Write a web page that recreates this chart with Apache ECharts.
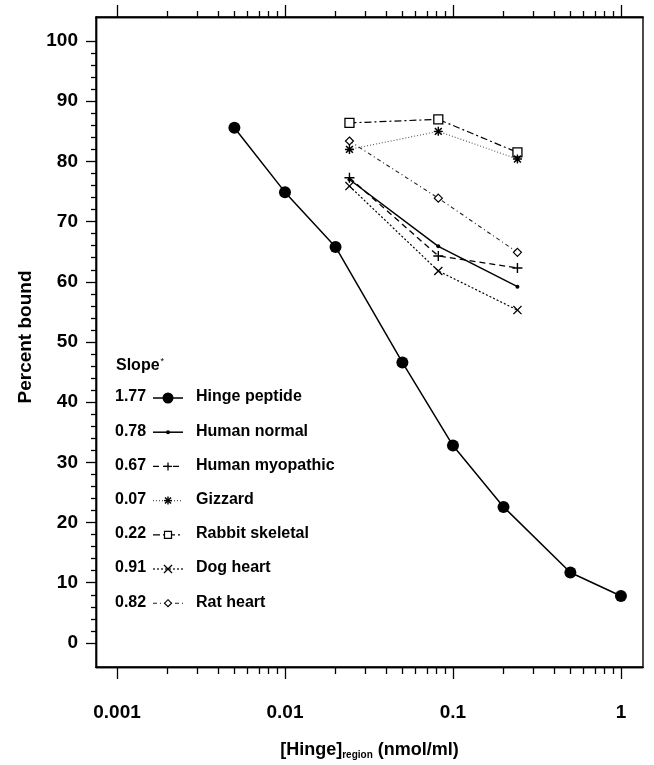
<!DOCTYPE html>
<html><head><meta charset="utf-8">
<script src="https://cdn.jsdelivr.net/npm/echarts@6/dist/echarts.min.js"></script>
<style>html,body{margin:0;padding:0;background:#fff}#c{width:654px;height:765px}</style>
</head><body><div id="c"></div>
<script>
// ---- data ----
const seriesNames = ['Hinge peptide','Human normal','Human myopathic','Gizzard','Rabbit skeletal','Dog heart','Rat heart'];
const slopes = ['1.77','0.78','0.67','0.07','0.22','0.91','0.82'];
const hingeX = [0.005, 0.01, 0.02, 0.05, 0.1, 0.2, 0.5, 1];
const hingeY = [85.6, 74.9, 65.8, 46.6, 32.8, 22.6, 11.7, 7.8];
const tissueX = [0.0242, 0.0818, 0.242];
const humanNormalY = [77.0, 65.9, 59.2];
const humanMyopathicY = [77.3, 64.3, 62.3];
const gizzardY = [82.0, 85.0, 80.4];
const rabbitSkeletalY = [86.4, 87.0, 81.5];
const dogHeartY = [75.9, 61.8, 55.3];
const ratHeartY = [83.4, 73.9, 64.9];
const xMajorTicks = [0.001, 0.01, 0.1, 1];
const xMinorTicks = [0.002,0.003,0.004,0.005,0.006,0.007,0.008,0.009,
                     0.02,0.03,0.04,0.05,0.06,0.07,0.08,0.09,
                     0.2,0.3,0.4,0.5,0.6,0.7,0.8,0.9];
const yMajorTicks = [0,10,20,30,40,50,60,70,80,90,100];
const yMinorTicks = [2,4,6,8,12,14,16,18,22,24,26,28,32,34,36,38,42,44,46,48,52,54,56,58,62,64,66,68,72,74,76,78,82,84,86,88,92,94,96,98];
const xLabel = '[Hinge]{sub|region} (nmol/ml)';
const yLabel = 'Percent bound';

// ---- styles ----
const FONT = "'Liberation Sans', Arial, Helvetica, sans-serif";
const FW = 'bold';
const X_MIN = 0.00075, X_MAX = 1.353, Y_MIN = -4, Y_MAX = 104;
const PLUS = 'path://M4.3,0H5.7V4.3H10V5.7H5.7V10H4.3V5.7H0V4.3H4.3Z';
const CROSS = 'path://M0,1L1,0L5,4L9,0L10,1L6,5L10,9L9,10L5,6L1,10L0,9L4,5Z';
const STAR = 'path://M4.2,0H5.8V10H4.2Z M0,4.2H10V5.8H0Z M0.6,1.8L1.8,0.6L9.4,8.2L8.2,9.4Z M8.2,0.6L9.4,1.8L1.8,9.4L0.6,8.2Z';

const pairs = (xs, ys) => xs.map((x, i) => [x, ys[i]]);
const seriesData = [
  pairs(hingeX, hingeY), pairs(tissueX, humanNormalY), pairs(tissueX, humanMyopathicY),
  pairs(tissueX, gizzardY), pairs(tissueX, rabbitSkeletalY), pairs(tissueX, dogHeartY), pairs(tissueX, ratHeartY)
];
const styles = [
  {symbol:'circle', size:12, fill:'#000', border:0, dash:'solid', width:1.5, color:'#000'},
  {symbol:'circle', size:4, fill:'#000', border:0, dash:'solid', width:1.5, color:'#000'},
  {symbol:PLUS, size:10, fill:'#000', border:0, dash:[6,4], width:1.3, color:'#000'},
  {symbol:STAR, size:9, fill:'#000', border:0, dash:[1,2], width:1.1, color:'#555'},
  {symbol:'rect', size:9, fill:'#fff', border:1.3, dash:[7,3,2,3], width:1.2, color:'#000'},
  {symbol:CROSS, size:9, fill:'#000', border:0, dash:[2,2], width:1.2, color:'#000'},
  {symbol:'diamond', size:8, fill:'#fff', border:1.2, dash:[4,3,1,3], width:1.1, color:'#222'}
];

const series = seriesNames.map((name, i) => ({
  name, type:'line', xAxisIndex:0, yAxisIndex:0, data: seriesData[i],
  symbol: styles[i].symbol, symbolSize: styles[i].size, showAllSymbol:true,
  lineStyle:{color:styles[i].color, width:styles[i].width, type:styles[i].dash},
  itemStyle:{color:styles[i].fill, borderColor:'#000', borderWidth:styles[i].border, opacity:1},
  emphasis:{disabled:true}, animation:false, z: 10 - i
}));

const tickLine = {color:'#000', width:1.3};
const baseX = (pos, ticks, len, labels) => ({
  type:'log', min:X_MIN, max:X_MAX, position:pos,
  axisLine:{show:true, onZero:false, lineStyle:{color:'#000', width:1.4}},
  axisTick:{show:true, inside:false, customValues:ticks, length:len, lineStyle:tickLine},
  minorTick:{show:false}, splitLine:{show:false},
  axisLabel: labels ? {show:true, customValues:ticks, margin:36, fontSize:19, fontWeight:FW, fontFamily:FONT, color:'#000',
     formatter: v => String(+Number(v).toPrecision(3))} : {show:false}
});
const baseY = (ticks, len, labels) => ({
  type:'value', min:Y_MIN, max:Y_MAX, position:'left',
  axisLine:{show:true, onZero:false, lineStyle:{color:'#000', width:1.4}},
  axisTick:{show:true, inside:false, customValues:ticks, length:len, lineStyle:tickLine},
  minorTick:{show:false}, splitLine:{show:false},
  axisLabel: labels ? {show:true, customValues:ticks, margin:18, fontSize:19, fontWeight:FW, fontFamily:FONT, color:'#000'} : {show:false}
});

const xAxes = [
  Object.assign(baseX('bottom', xMajorTicks, 12, true), {
    name: xLabel, nameLocation:'middle', nameGap:73,
    nameTextStyle:{fontSize:18, fontWeight:FW, fontFamily:FONT, color:'#000', rich:{sub:{fontSize:10, fontWeight:FW, fontFamily:FONT, color:'#000', padding:[10,0,0,0]}}}
  }),
  baseX('bottom', xMinorTicks, 7, false),
  baseX('top', xMajorTicks, 12, false),
  baseX('top', xMinorTicks, 6, false)
];
const yAxes = [ baseY(yMajorTicks, 10, true), baseY(yMinorTicks, 5, false) ];

// ---- legend (graphic) ----
const LX0 = 115, LSYM = 168, LNAME = 196, LROW0 = 398, LSTEP = 34.2;
const graphic = [];
graphic.push({type:'text', left:116, top:357, style:{text:'Slope{sup|*}', fontSize:16, fontWeight:FW, fontFamily:FONT, fill:'#000',
  rich:{sup:{fontSize:9, fontFamily:FONT, fill:'#000', padding:[0,0,8,1]}}}});
function markerGraphic(i, cx, cy) {
  const g = [];
  if (i === 0) g.push({type:'circle', shape:{cx, cy, r:5.5}, style:{fill:'#000'}});
  else if (i === 1) g.push({type:'circle', shape:{cx, cy, r:2}, style:{fill:'#000'}});
  else if (i === 2) { g.push({type:'line', shape:{x1:cx-4,y1:cy,x2:cx+4,y2:cy}, style:{stroke:'#000', lineWidth:1.3}});
                      g.push({type:'line', shape:{x1:cx,y1:cy-4,x2:cx,y2:cy+4}, style:{stroke:'#000', lineWidth:1.3}}); }
  else if (i === 3) { [[4,0],[0,4],[3,3],[3,-3]].forEach(([dx,dy]) => g.push({type:'line', shape:{x1:cx-dx,y1:cy-dy,x2:cx+dx,y2:cy+dy}, style:{stroke:'#000', lineWidth:1.4}})); }
  else if (i === 4) g.push({type:'rect', shape:{x:cx-3.5,y:cy-3.5,width:7,height:7}, style:{fill:'#fff', stroke:'#000', lineWidth:1.2}});
  else if (i === 5) { g.push({type:'line', shape:{x1:cx-4,y1:cy-4,x2:cx+4,y2:cy+4}, style:{stroke:'#000', lineWidth:1.3}});
                      g.push({type:'line', shape:{x1:cx-4,y1:cy+4,x2:cx+4,y2:cy-4}, style:{stroke:'#000', lineWidth:1.3}}); }
  else if (i === 6) g.push({type:'polygon', shape:{points:[[cx,cy-3.5],[cx+3.5,cy],[cx,cy+3.5],[cx-3.5,cy]]}, style:{fill:'#fff', stroke:'#000', lineWidth:1.1}});
  return g;
}
seriesNames.forEach((name, i) => {
  const cy = LROW0 + i * LSTEP;
  const s = styles[i];
  graphic.push({type:'text', left:LX0, top:cy - 9, style:{text:slopes[i], fontSize:16, fontWeight:FW, fontFamily:FONT, fill:'#000'}});
  graphic.push({type:'line', z:5, shape:{x1:LSYM-15, y1:cy, x2:LSYM+15, y2:cy},
    style:{stroke:s.color, lineWidth:s.width, lineDash: s.dash === 'solid' ? null : s.dash}});
  markerGraphic(i, LSYM, cy).forEach(m => { m.z = 6; graphic.push(m); });
  graphic.push({type:'text', left:LNAME, top:cy - 9, style:{text:name, fontSize:16, fontWeight:FW, fontFamily:FONT, fill:'#000'}});
});
graphic.push({type:'text', x:26, y:337, rotation:Math.PI/2, style:{text:yLabel, fontSize:19, fontWeight:FW, fontFamily:FONT, fill:'#000', align:'center', verticalAlign:'middle'}});

const chart = echarts.init(document.getElementById('c'), null, {renderer:'canvas'});
chart.setOption({
  backgroundColor:'#fff', animation:false,
  grid:{left:96, right:11, top:17, bottom:94, show:true, borderColor:'#000', borderWidth:1.4, containLabel:false},
  xAxis: xAxes, yAxis: yAxes, series, graphic
});
</script></body></html>
